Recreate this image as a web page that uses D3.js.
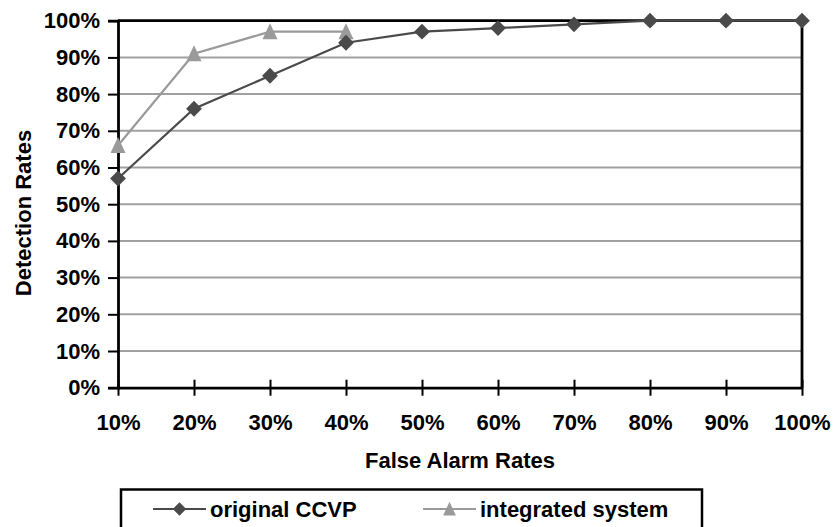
<!DOCTYPE html>
<html>
<head>
<meta charset="utf-8">
<script src="https://cdn.jsdelivr.net/npm/d3@7"></script>
<style>
  html, body { margin: 0; padding: 0; background: #fff; }
  svg { display: block; font-family: "Liberation Sans", Arial, sans-serif; font-weight: bold; }
</style>
</head>
<body>
<svg id="chart" width="835" height="527"></svg>
<script>
// False alarm rate categories along the x axis
const falseAlarmRates = ["10%", "20%", "30%", "40%", "50%", "60%", "70%", "80%", "90%", "100%"];
// Detection rates (%) per series
const originalCCVP = [57, 76, 85, 94, 97, 98, 99, 100, 100, 100];
const integratedSystem = [66, 91, 97, 97];
const yTicks = [0, 10, 20, 30, 40, 50, 60, 70, 80, 90, 100];
const seriesNames = ["original CCVP", "integrated system"];

const W = 835, H = 527;
const margin = { top: 20.7, right: 33, bottom: 139.3, left: 118 };
const svg = d3.select("#chart");

const x = d3.scalePoint().domain(falseAlarmRates).range([margin.left, W - margin.right]).padding(0);
const y = d3.scaleLinear().domain([0, 100]).range([H - margin.bottom, margin.top]);

const darkCol = "#4a4a4a", lightCol = "#9a9a9a";
const fontFam = "Liberation Sans, Arial, sans-serif";

// horizontal gridlines
svg.append("g").selectAll("line")
  .data(yTicks.filter(d => d > 0 && d < 100))
  .join("line")
  .attr("x1", margin.left).attr("x2", W - margin.right)
  .attr("y1", d => y(d)).attr("y2", d => y(d))
  .attr("stroke", "#a0a0a0").attr("stroke-width", 2);

// plot border (top and right)
svg.append("path")
  .attr("d", `M${margin.left},${y(100)}H${W - margin.right}V${y(0)}`)
  .attr("fill", "none").attr("stroke", "#000").attr("stroke-width", 2.8);

// y axis
const yAxis = svg.append("g")
  .attr("transform", `translate(${margin.left},0)`)
  .call(d3.axisLeft(y).tickValues(yTicks).tickSize(10).tickPadding(8).tickFormat(d => d + "%"));
yAxis.select(".domain").attr("stroke", "#000").attr("stroke-width", 2.8);
yAxis.selectAll(".tick line").attr("stroke", "#000").attr("stroke-width", 2);
yAxis.selectAll("text").attr("font-size", 22).attr("font-weight", "bold").attr("fill", "#000")
  .attr("font-family", fontFam);

// x axis with crossing tick marks
const xAxis = svg.append("g")
  .attr("transform", `translate(0,${y(0)})`)
  .call(d3.axisBottom(x).tickSize(8).tickSizeOuter(0));
xAxis.select(".domain").attr("stroke", "#000").attr("stroke-width", 2.8);
xAxis.selectAll(".tick line").attr("y1", -8).attr("y2", 8).attr("stroke", "#000").attr("stroke-width", 2);
xAxis.selectAll("text").attr("y", 42).attr("dy", 0)
  .attr("font-size", 22).attr("font-weight", "bold").attr("fill", "#000")
  .attr("font-family", fontFam);

// axis titles
svg.append("text")
  .attr("x", (margin.left + W - margin.right) / 2).attr("y", 468)
  .attr("text-anchor", "middle").attr("font-size", 22).text("False Alarm Rates");
svg.append("text")
  .attr("transform", `translate(31,${213}) rotate(-90)`)
  .attr("text-anchor", "middle").attr("font-size", 22).text("Detection Rates");

const line = d3.line().x((d, i) => x(falseAlarmRates[i])).y(d => y(d));
const diamond = d3.symbol().type(d3.symbolSquare).size(125)();
const triangle = "M0,-8.5L7.5,7.5L-7.5,7.5Z";

// integrated system series
svg.append("path").datum(integratedSystem)
  .attr("d", line).attr("fill", "none").attr("stroke", lightCol).attr("stroke-width", 2.2);
svg.append("g").selectAll("path").data(integratedSystem).join("path")
  .attr("d", triangle)
  .attr("transform", (d, i) => `translate(${x(falseAlarmRates[i])},${y(d)})`)
  .attr("fill", lightCol);

// original CCVP series
svg.append("path").datum(originalCCVP)
  .attr("d", line).attr("fill", "none").attr("stroke", darkCol).attr("stroke-width", 2.2);
svg.append("g").selectAll("path").data(originalCCVP).join("path")
  .attr("d", diamond)
  .attr("transform", (d, i) => `translate(${x(falseAlarmRates[i])},${y(d)}) rotate(45)`)
  .attr("fill", darkCol);

// legend
const lg = svg.append("g");
lg.append("rect").attr("x", 121).attr("y", 489.5).attr("width", 581).attr("height", 60)
  .attr("fill", "#fff").attr("stroke", "#000").attr("stroke-width", 2.5);
const legendItems = [
  { name: seriesNames[0], color: darkCol, shape: diamond, rot: 45, x0: 153, x1: 206, tx: 210 },
  { name: seriesNames[1], color: lightCol, shape: triangle, rot: 0, x0: 423, x1: 476, tx: 480 }
];
legendItems.forEach(it => {
  const ly = 509;
  lg.append("line").attr("x1", it.x0).attr("x2", it.x1).attr("y1", ly).attr("y2", ly)
    .attr("stroke", it.color).attr("stroke-width", 2.2);
  lg.append("path").attr("d", it.shape)
    .attr("transform", `translate(${(it.x0 + it.x1) / 2},${ly}) rotate(${it.rot}) scale(0.85)`)
    .attr("fill", it.color);
  lg.append("text").attr("x", it.tx).attr("y", 516.5).attr("font-size", 22).text(it.name);
});
</script>
</body>
</html>
